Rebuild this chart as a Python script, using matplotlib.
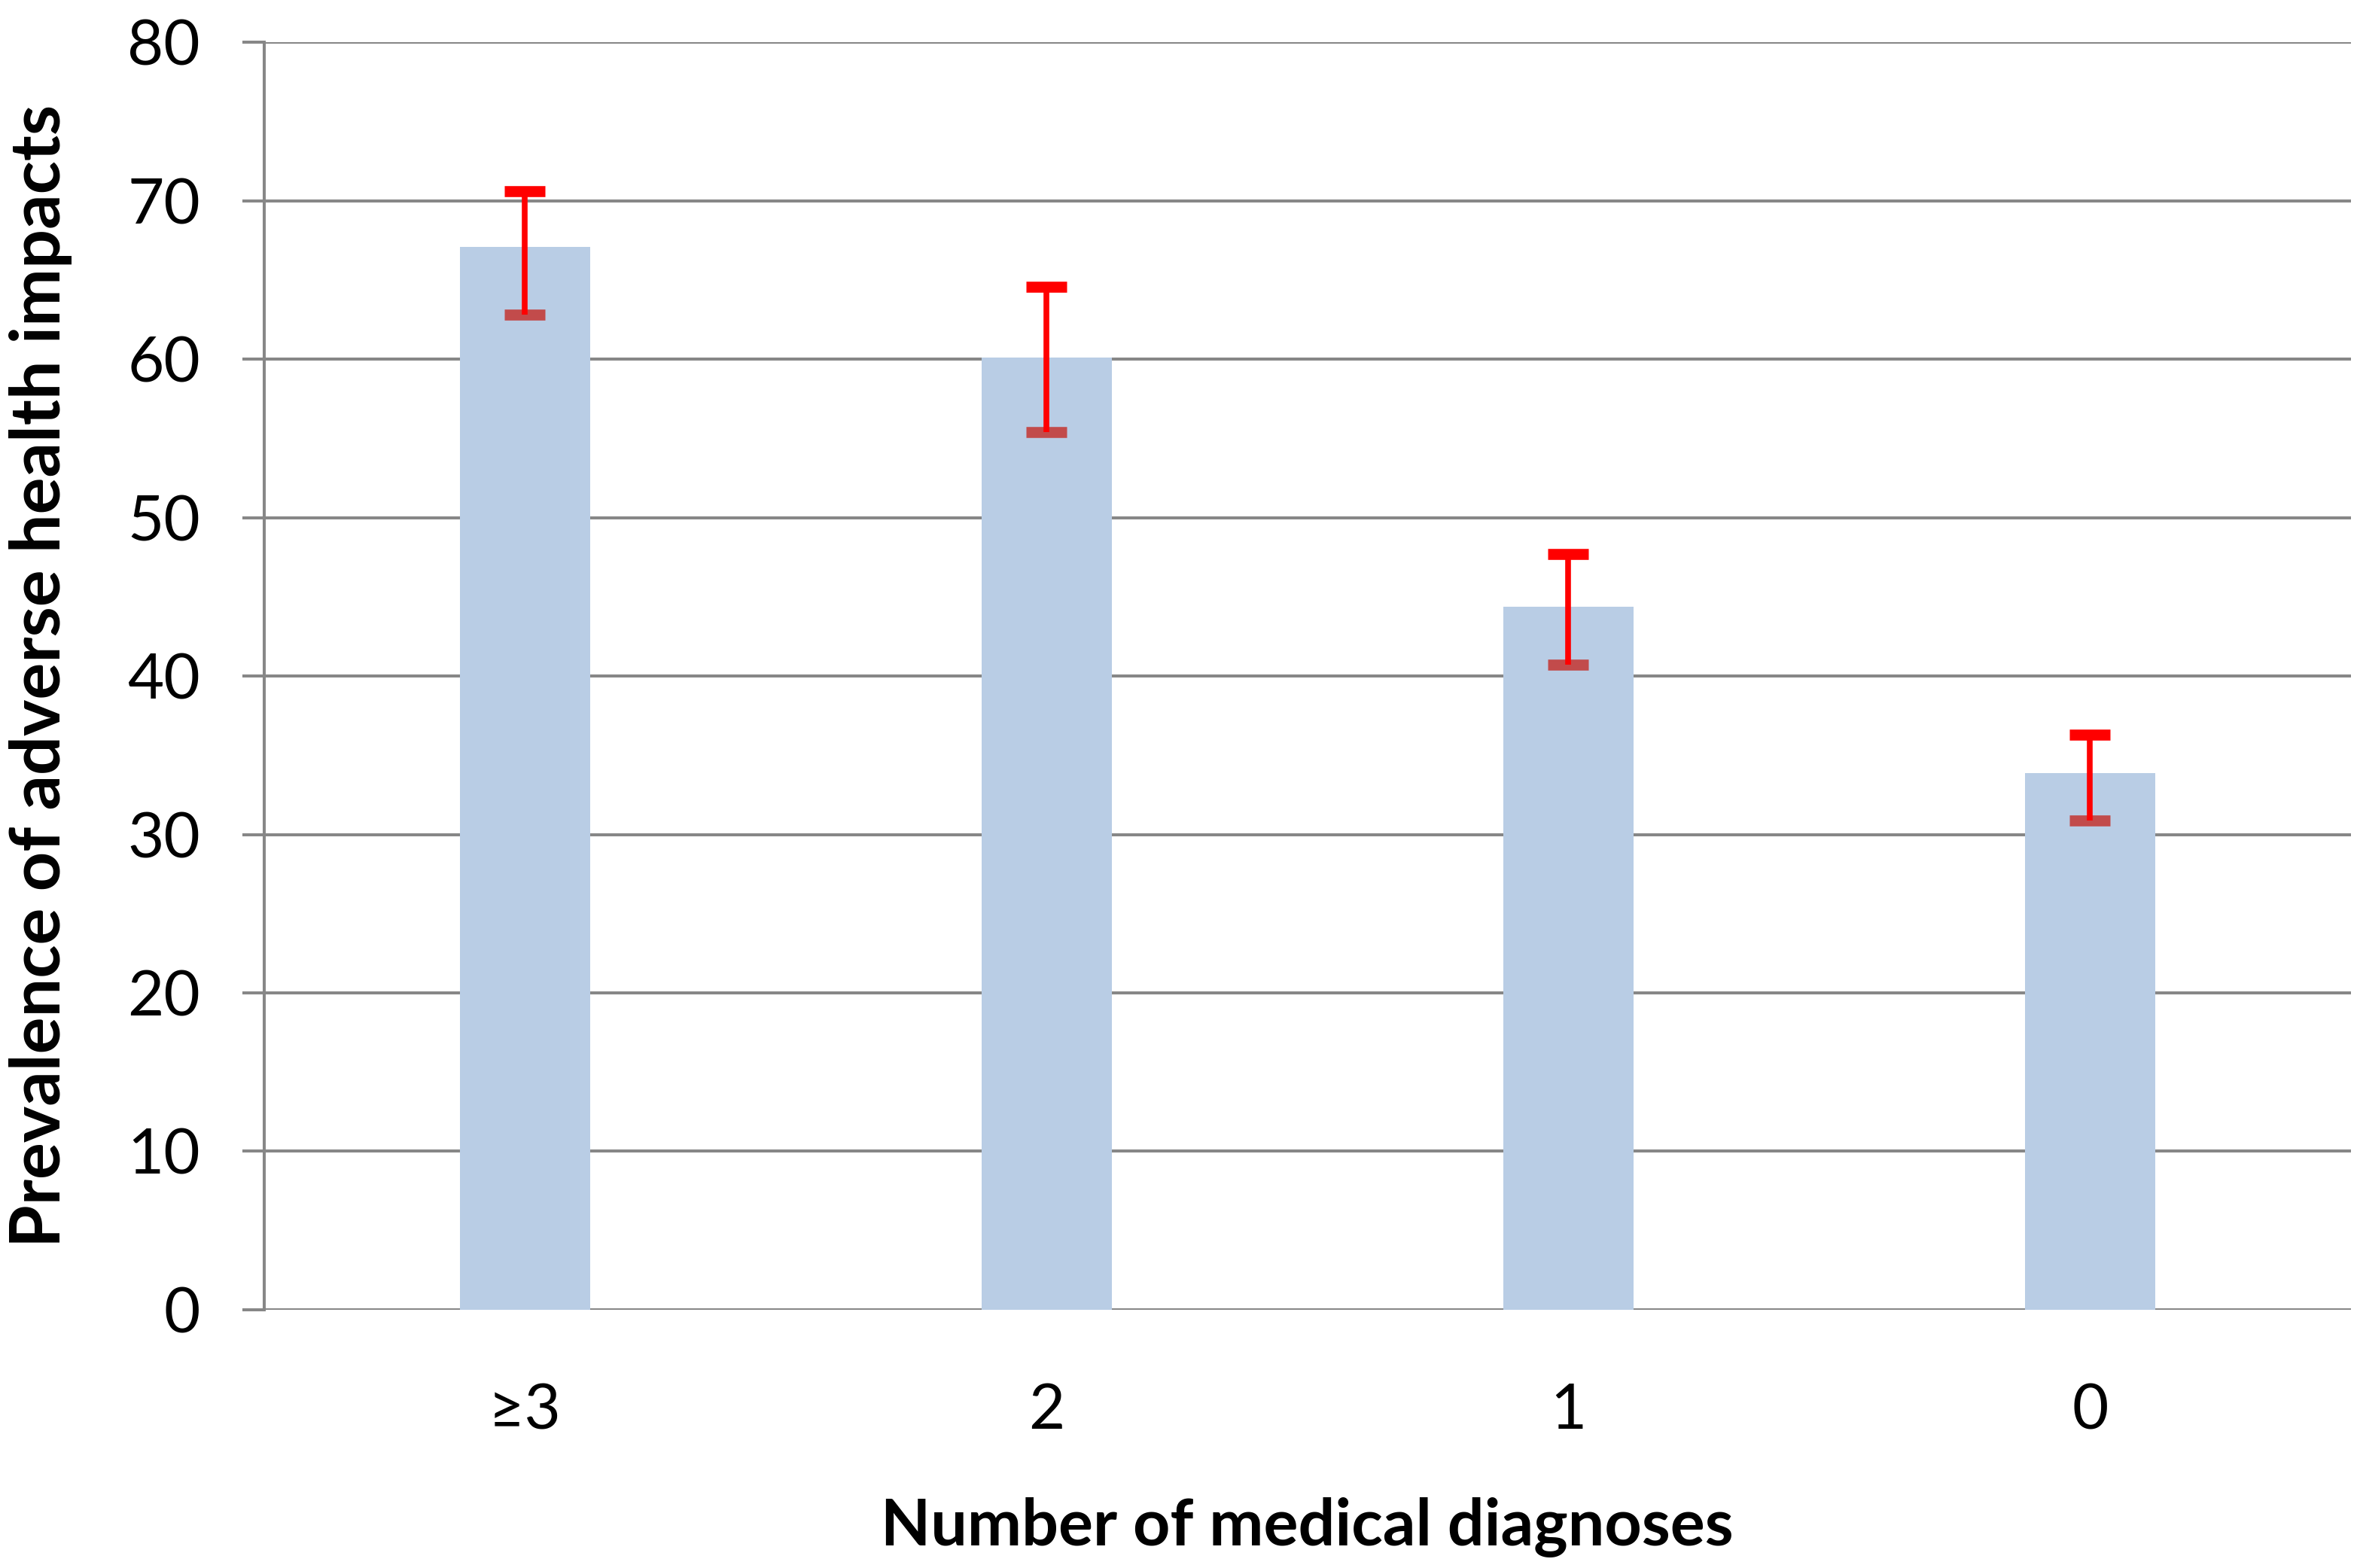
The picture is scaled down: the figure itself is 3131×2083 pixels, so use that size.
import matplotlib
matplotlib.use("Agg")
import matplotlib.pyplot as plt
import numpy as np

# --- data --------------------------------------------------------------
categories = ["\u22653", "2", "1", "0"]
prevalence = [67.1, 60.1, 44.4, 33.9]
ci_upper   = [70.6, 64.6, 47.7, 36.3]
ci_lower   = [62.8, 55.4, 40.7, 30.9]
y_ticks    = [0, 10, 20, 30, 40, 50, 60, 70, 80]

BAR_COLOR  = "#B9CDE5"
GRID_COLOR = "#878787"
ERR_COLOR  = "#FF0000"
LOW_CAP    = "#C24B4B"

plt.rcParams["font.family"] = ["Lato", "DejaVu Sans"]

fig = plt.figure(figsize=(31.31, 20.83), dpi=100, facecolor="w")
ax = fig.add_axes([0.112, 0.1647, 0.8854, 0.8082])

x = np.arange(len(categories))
ax.bar(x, prevalence, width=0.25, color=BAR_COLOR, zorder=2)

# error bars: lower cap (darker, sits on the bar), stem, upper cap
ax.plot(x, ci_lower, linestyle="none", marker="_", markersize=39,
        markeredgewidth=10.5, color=LOW_CAP, zorder=3)
ax.vlines(x, ci_lower, ci_upper, color=ERR_COLOR, linewidth=5.5, zorder=4)
ax.plot(x, ci_upper, linestyle="none", marker="_", markersize=39,
        markeredgewidth=10.5, color=ERR_COLOR, zorder=4)

ax.set_xlim(-0.5, 3.5)
ax.set_ylim(0, 80)
ax.set_xticks(x)
ax.set_xticklabels(categories)
ax.set_yticks(y_ticks)

ax.grid(axis="y", color=GRID_COLOR, linewidth=2.9, zorder=1)
ax.set_axisbelow(True)
for s in ("top", "right", "bottom"):
    ax.spines[s].set_visible(False)
ax.spines["left"].set_color(GRID_COLOR)
ax.spines["left"].set_linewidth(2.9)
ax.spines["left"].set_zorder(1)

ax.tick_params(axis="y", length=21, width=2.9, color=GRID_COLOR,
               labelsize=60, pad=40)
ax.tick_params(axis="x", length=0, labelsize=60, pad=70)

ax.set_xlabel("Number of medical diagnoses", fontsize=62, fontweight="bold")
ax.set_ylabel("Prevalence of adverse health impacts", fontsize=66,
              fontweight="bold")
ax.xaxis.set_label_coords(0.5, -0.1715)
ax.yaxis.set_label_coords(-0.107, 0.5)
ax.xaxis.label.set_va("center")
ax.yaxis.label.set_va("center")

fig.savefig("out.png", dpi=100, facecolor="w")
